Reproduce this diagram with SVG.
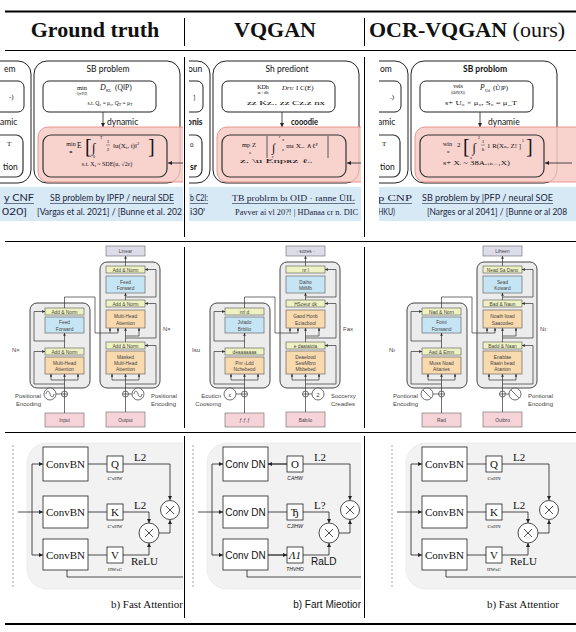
<svg xmlns="http://www.w3.org/2000/svg" xmlns:xlink="http://www.w3.org/1999/xlink" width="576" height="632" viewBox="0 0 576 632">
<style>
text{fill:#111}
.hd{font-family:"Liberation Serif",serif;font-size:22px;font-weight:bold}
.fr{fill:#fff;stroke:#222;stroke-width:1}
.fr2{fill:none;stroke:#333;stroke-width:1.2}
.pk{fill:#f7cbc5;fill-opacity:.85;stroke:#e4837a;stroke-width:.8}
.band{fill:#d7e9f5}
.ln{stroke:#222;stroke-width:.8;fill:none}
.sb{font-family:Lato,"Open Sans",sans-serif;font-size:8.5px}
.bt{font-family:Lato,"Open Sans",sans-serif;font-size:8.5px;fill:#1a2440}
.m{font-family:"Liberation Serif","DejaVu Serif",serif}
.mid{text-anchor:middle}
.end{text-anchor:end}
.tf{fill:#ececec;stroke:#333;stroke-width:.9}
.an{fill:#eef2c2;stroke:#555;stroke-width:.6}
.ff{fill:#c6e5f4;stroke:#555;stroke-width:.6}
.mh{fill:#f9d9ae;stroke:#555;stroke-width:.6}
.li{fill:#dcdde8;stroke:#666;stroke-width:.6}
.io{fill:#f6d3d9;stroke:#666;stroke-width:.6}
.l2{stroke:#333;stroke-width:.7;fill:none}
.t2{font-family:"Liberation Sans",Arial,sans-serif;font-size:4.8px;fill:#444;text-anchor:middle}
.t2s{font-family:"Liberation Sans",Arial,sans-serif;font-size:6px;fill:#444}
.bx{fill:#fff;stroke:#222;stroke-width:.8}
.l3{stroke:#222;stroke-width:.8;fill:none}
.t3{font-family:"Liberation Serif",serif;font-size:11px}
.t3s{font-family:"Liberation Serif",serif;font-size:5px}
.t3a{font-family:"Liberation Sans",Arial,sans-serif;font-size:10px}
.t3as{font-family:"Liberation Sans",Arial,sans-serif;font-size:5px;font-style:italic}
</style>
<defs>
<marker id="a1" viewBox="0 0 6 6" refX="6" refY="3" markerUnits="userSpaceOnUse" markerWidth="4" markerHeight="4" orient="auto"><path d="M0,0L6,3L0,6z" fill="#222"/></marker>
<marker id="a2" viewBox="0 0 6 6" refX="6" refY="3" markerUnits="userSpaceOnUse" markerWidth="2.8" markerHeight="2.8" orient="auto"><path d="M0,0L6,3L0,6z" fill="#333"/></marker>
<clipPath id="c1"><rect x="0" y="52" width="183" height="572"/></clipPath>
<clipPath id="c2"><rect x="189" y="52" width="172" height="572"/></clipPath>
<clipPath id="c3"><rect x="379" y="52" width="197" height="572"/></clipPath>
<g id="r1s">
<rect class="fr" x="-40" y="61" width="71" height="122" rx="13"/>
<rect class="fr" x="-30" y="81" width="54" height="31" rx="6"/>
<rect class="fr2" x="-30" y="135" width="53" height="42" rx="7"/>
<rect class="fr" x="34" y="61" width="146" height="122" rx="13"/>
<rect class="fr" x="43" y="81" width="113" height="31" rx="6"/>
<path class="ln" d="M103,112V127" marker-end="url(#a1)"/>
<rect class="pk" x="38" y="127" width="200" height="55" rx="10"/>
<rect class="fr2" x="43" y="135" width="124" height="42" rx="8"/>
<path class="ln" d="M195,163H168" marker-end="url(#a1)"/>
<rect class="band" x="-10" y="187" width="220" height="34"/>
</g>
<g id="r2s">
<rect class="li" x="106" y="246" width="39" height="10"/>
<rect class="tf" x="100" y="262" width="60" height="126" rx="7"/>
<rect class="tf" x="30" y="303" width="60" height="85" rx="7"/>
<rect class="an" x="106" y="266" width="39" height="7"/>
<rect class="ff" x="106" y="276" width="39" height="17"/>
<rect class="an" x="106" y="300" width="39" height="7"/>
<rect class="mh" x="106" y="310" width="39" height="18"/>
<rect class="an" x="106" y="342" width="39" height="7"/>
<rect class="mh" x="106" y="351" width="39" height="23"/>
<rect class="io" x="106" y="412" width="39" height="15"/>
<rect class="an" x="45" y="308" width="39" height="7"/>
<rect class="ff" x="45" y="317" width="39" height="16"/>
<rect class="an" x="45" y="348" width="39" height="7"/>
<rect class="mh" x="45" y="357" width="39" height="17"/>
<rect class="io" x="45" y="413" width="39" height="14"/>
<path class="l2" d="M125.5,412V397M64.5,413V397M112,380H139M51,380H78M128.5,394H132M56,394H61.5"/>
<path class="l2" d="M125.5,391V374" marker-end="url(#a2)"/>
<path class="l2" d="M112,380V374" marker-end="url(#a2)"/>
<path class="l2" d="M139,380V374" marker-end="url(#a2)"/>
<path class="l2" d="M125.5,384H156V345.5H145" marker-end="url(#a2)"/>
<path class="l2" d="M125.5,342V328" marker-end="url(#a2)"/>
<path class="l2" d="M125.5,336H139V328" marker-end="url(#a2)"/>
<path class="l2" d="M64.5,308V297H95V333H118V328" marker-end="url(#a2)"/>
<path class="l2" d="M110,333V328" marker-end="url(#a2)"/>
<path class="l2" d="M125.5,338H156V303.5H145" marker-end="url(#a2)"/>
<path class="l2" d="M125.5,300V293" marker-end="url(#a2)"/>
<path class="l2" d="M125.5,297H156V269.5H145" marker-end="url(#a2)"/>
<path class="l2" d="M125.5,266V256" marker-end="url(#a2)"/>
<path class="l2" d="M64.5,391V374" marker-end="url(#a2)"/>
<path class="l2" d="M51,380V374" marker-end="url(#a2)"/>
<path class="l2" d="M78,380V374" marker-end="url(#a2)"/>
<path class="l2" d="M64.5,384H34V351.5H45" marker-end="url(#a2)"/>
<path class="l2" d="M64.5,348V333" marker-end="url(#a2)"/>
<path class="l2" d="M64.5,341H34V311.5H45" marker-end="url(#a2)"/>
<circle cx="125.5" cy="394" r="3" fill="#fff" stroke="#333" stroke-width=".7"/>
<path class="l2" d="M122.5,394h6M125.5,391v6"/>
<circle cx="64.5" cy="394" r="3" fill="#fff" stroke="#333" stroke-width=".7"/>
<path class="l2" d="M61.5,394h6M64.5,391v6"/>
<circle cx="138" cy="394" r="6" fill="#fff" stroke="#333" stroke-width=".7"/>
<circle cx="50" cy="394" r="6" fill="#fff" stroke="#333" stroke-width=".7"/>
</g>
<g id="r3s">
<path d="M13,445V588" stroke="#888" stroke-width=".8" stroke-dasharray="2,2"/>
<rect x="27" y="443" width="240" height="146" rx="20" fill="#f2f2f2" stroke="#e4e4e4" stroke-width=".6"/>
<rect class="bx" x="43" y="447" width="45" height="34"/>
<rect class="bx" x="43" y="496" width="45" height="32"/>
<rect class="bx" x="43" y="539" width="45" height="31"/>
<rect class="bx" x="107" y="456" width="16" height="16"/>
<rect class="bx" x="107" y="504" width="16" height="16"/>
<rect class="bx" x="107" y="547" width="16" height="16"/>
<path class="l3" d="M88,464H107M88,512H107M88,555H107M32,464V555M67,570V577H270"/>
<path class="l3" d="M123,464H170V500" marker-end="url(#a1)"/>
<path class="l3" d="M123,512H149V523" marker-end="url(#a1)"/>
<path class="l3" d="M123,555H149V543" marker-end="url(#a1)"/>
<path class="l3" d="M159,533H170V520" marker-end="url(#a1)"/>
<path class="l3" d="M18,512H43" marker-end="url(#a1)"/>
<path class="l3" d="M32,464H43" marker-end="url(#a1)"/>
<path class="l3" d="M32,555H43" marker-end="url(#a1)"/>
<circle class="bx" cx="170" cy="510" r="9.5"/>
<circle class="bx" cx="149" cy="533" r="10"/>
<path class="l3" d="M166,506l8,8M174,506l-8,8M145,529l8,8M153,529l-8,8"/>
</g>
</defs>

<g id="header">
<path d="M5,11.5H576" stroke="#000" stroke-width="2"/>
<path d="M5,50.5H576" stroke="#000" stroke-width="1"/>
<text class="hd mid" x="95" y="37">Ground truth</text>
<text class="hd mid" x="275" y="37">VQGAN</text>
<text class="hd" x="369" y="37">OCR-VQGAN<tspan font-weight="normal"> (ours)</tspan></text>
</g>

<g id="rules">
<path d="M5,241.5H576M5,432.5H576" stroke="#000" stroke-width="1"/>
<path d="M5,624H576" stroke="#000" stroke-width="2"/>
<path d="M184.5,18V46M184.5,57V237M184.5,247V428M184.5,436V618M364.5,18V46M364.5,57V237M364.5,247V428M364.5,436V618" stroke="#000" stroke-width="1"/>
</g>

<!-- ROW 1 -->
<g id="r1c1" clip-path="url(#c1)">
<use xlink:href="#r1s"/>
<text class="sb" x="4" y="72">em</text>
<text class="m" x="9" y="99" font-size="7">-)</text>
<text class="sb" x="0" y="125">amic</text>
<text class="m" x="7" y="146" font-size="7">T</text>
<text class="sb" x="3" y="170" font-size="5">tion</text>
<text class="sb mid" x="108" y="72">SB problem</text>
<text class="m mid" x="82" y="90" font-size="6.5">min</text>
<text class="m mid" x="82" y="95" font-size="3.5">Q∈P(Ι)</text>
<text class="m" x="100" y="90" font-size="8" font-style="italic">D</text>
<text class="m" x="106" y="92" font-size="4">KL</text>
<text class="m" x="115" y="90" font-size="7.5">(Q‖P)</text>
<text class="m mid" x="110" y="104.5" font-size="5.5">s.t. Q₀ = μ₀, Q<tspan font-size="4" dy="1">T</tspan><tspan dy="-1"> = μ</tspan><tspan font-size="4" dy="1">T</tspan></text>
<text class="sb" x="107" y="125">dynamic</text>
<text class="m mid" x="71" y="146" font-size="6">min</text>
<text class="m mid" x="71" y="153" font-size="5" font-weight="bold">u</text>
<text class="m" x="77" y="147.5" font-size="7.5">E</text>
<text class="m" x="85" y="153" font-size="20">[</text>
<text class="m" x="92" y="152" font-size="13" font-style="italic">∫</text>
<text class="m" x="100" y="139" font-size="4">T</text>
<text class="m" x="93" y="157.5" font-size="4">0</text>
<text class="m mid" x="108" y="143" font-size="5">1</text>
<path d="M106,145H110" stroke="#222" stroke-width=".4"/>
<text class="m mid" x="108" y="151" font-size="5">2</text>
<text class="m" x="113" y="148" font-size="7">‖u(X<tspan font-size="4.5" dy="1">t</tspan><tspan dy="-1">, t)‖</tspan><tspan font-size="4.5" dy="-3">2</tspan></text>
<text class="m" x="148" y="153" font-size="20">]</text>
<text class="m mid" x="107" y="166" font-size="6">s.t. X<tspan font-size="4" dy="1">t</tspan><tspan dy="-1"> ~ SDE(u, √2ε)</tspan></text>
<text class="bt" x="4" y="201" textLength="30" lengthAdjust="spacingAndGlyphs">y CNF</text>
<text class="bt" x="50" y="201" textLength="124" lengthAdjust="spacingAndGlyphs">SB problem by IPFP / neural SDE</text>
<path d="M4,203.5H34M50,203.5H174" stroke="#1a2440" stroke-width=".6"/>
<text class="bt" x="2" y="215" textLength="25" lengthAdjust="spacingAndGlyphs">020]</text>
<text class="bt" x="37" y="215" textLength="145" lengthAdjust="spacingAndGlyphs">[Vargas et al. 2021] / [Bunne et al. 202</text>
</g>

<g id="r1c2" clip-path="url(#c2)">
<g transform="translate(179,0)">
<use xlink:href="#r1s"/>
<text class="sb" x="9" y="72">oun</text>
<text class="m" x="14" y="99" font-size="7">]</text>
<text class="sb" x="8" y="125" font-weight="bold">onis</text>
<text class="m" x="11" y="147" font-size="7">0</text>
<text class="sb" x="11" y="170" font-size="5" font-weight="bold">sr</text>
<text class="sb mid" x="108" y="72">Sh prediont</text>
<text class="m mid" x="84" y="89" font-size="6">KDh</text>
<text class="m mid" x="84" y="94" font-size="4.5">ж / dh</text>
<text class="m" x="103" y="90" font-size="7" font-style="italic">Dᴦᴜ</text>
<text class="m" x="117" y="90" font-size="7">I C(E)</text>
<text class="m" x="68" y="105" font-size="5.5" textLength="78" lengthAdjust="spacingAndGlyphs">zz  Kz.. zz   Cz.z  nx</text>
<text class="sb" x="112" y="125" font-weight="bold" textLength="27" lengthAdjust="spacingAndGlyphs">cooodie</text>
<text class="m" x="63" y="147" font-size="6.5">mp Z</text>
<text class="m" x="70" y="154" font-size="4.5">z</text>
<path d="M88,136V158M149,136V158" stroke="#333" stroke-width=".8"/>
<text class="m" x="93" y="152" font-size="12" font-style="italic">∫</text>
<text class="m" x="100" y="138" font-size="4">r</text>
<text class="m" x="93" y="157.5" font-size="4">ɛ</text>
<text class="m" x="103" y="141" font-size="4.5">x</text>
<text class="m" x="103" y="151" font-size="4.5">z</text>
<text class="m" x="107" y="148" font-size="6.5" textLength="32" lengthAdjust="spacingAndGlyphs">ɪnı X.. ∧ℓᴾ</text>
<text class="m" x="61" y="163" font-size="5.5" textLength="72" lengthAdjust="spacingAndGlyphs">z.   \u    Enpʀz   ℓᵢᵢ</text>
<text class="bt" x="11" y="201" textLength="18" lengthAdjust="spacingAndGlyphs">b C2I:</text>
<text class="bt m" x="53" y="201" textLength="123" lengthAdjust="spacingAndGlyphs">TB problrm bı OID · ranne ŨIL</text>
<path d="M11,203.5H29M53,203.5H176" stroke="#1a2440" stroke-width=".6"/>
<text class="bt" x="11" y="215" textLength="15" lengthAdjust="spacingAndGlyphs">i30ᴵ</text>
<text class="bt m" x="56" y="215" textLength="123" lengthAdjust="spacingAndGlyphs">Pavver ai vl 20?! | HDanaa cr n. DIC</text>
</g>
</g>

<g id="r1c3" clip-path="url(#c3)">
<g transform="translate(377,0)">
<use xlink:href="#r1s"/>
<text class="sb" x="3" y="72">om</text>
<text class="m" x="13" y="99" font-size="7">.)</text>
<text class="sb" x="1" y="125">amic</text>
<text class="m" x="5" y="146" font-size="7">T</text>
<text class="sb" x="3" y="170" font-size="5">tion</text>
<text class="sb mid" x="108" y="72" font-weight="bold">SB problom</text>
<text class="m mid" x="81" y="88" font-size="6">veis</text>
<text class="m mid" x="81" y="94" font-size="3.5">(ΩϑN(X))</text>
<text class="m" x="103" y="90" font-size="7.5" font-style="italic">P</text>
<text class="m" x="108" y="92" font-size="4">Ud</text>
<text class="m" x="116" y="90" font-size="7">(Ũ|P)</text>
<text class="m" x="68" y="104.5" font-size="5.5" textLength="72" lengthAdjust="spacingAndGlyphs">s+  U₀ × μ₀,  S₀ = μ_T</text>
<text class="sb" x="111" y="125">dynamie</text>
<text class="m" x="66" y="146" font-size="6">win</text>
<text class="m" x="80" y="147" font-size="7">2</text>
<text class="m" x="70" y="153" font-size="4.5">α</text>
<text class="m" x="86" y="153" font-size="20">[</text>
<text class="m" x="95.5" y="152" font-size="13" font-style="italic">∫</text>
<text class="m" x="101" y="139" font-size="4">2</text>
<text class="m" x="93.2" y="158.5" font-size="4">a</text>
<text class="m mid" x="106" y="143" font-size="5">1</text>
<path d="M104,145H108" stroke="#222" stroke-width=".4"/>
<text class="m mid" x="106" y="151" font-size="5">ḃ</text>
<text class="m" x="110" y="148" font-size="6.5" textLength="34" lengthAdjust="spacingAndGlyphs">1 R(Xₙ, Z! ]</text>
<text class="m" x="145" y="142" font-size="4">5</text>
<text class="m" x="149" y="153" font-size="20">]</text>
<text class="m" x="66" y="164.5" font-size="5.5" textLength="67" lengthAdjust="spacingAndGlyphs">s+  Xᵢ ~ 38Aₐ₍ₕ₋₁X)</text>
<text class="bt m" x="1" y="201" textLength="34" lengthAdjust="spacingAndGlyphs">p CNP</text>
<text class="bt" x="45" y="201" textLength="131" lengthAdjust="spacingAndGlyphs">SB problem by |PFP / neural SOE</text>
<path d="M1,203.5H35M45,203.5H176" stroke="#1a2440" stroke-width=".6"/>
<text class="bt" x="1" y="215" textLength="17" lengthAdjust="spacingAndGlyphs">HKU)</text>
<text class="bt" x="50" y="215" textLength="140" lengthAdjust="spacingAndGlyphs">[Narges or al 2041] / [Bunne or al 208</text>
</g>
</g>

<!-- ROW 2 -->
<g id="r2c1" clip-path="url(#c1)">
<use xlink:href="#r2s"/>
<path class="l2" d="M134,394c1-4 2.5-4 4,0s3,4 4,0M46,394c1-4 2.5-4 4,0s3,4 4,0"/>
<text class="t2" x="125.5" y="253" fill="#666">Linear</text>
<text class="t2" x="125.5" y="271.6">Add &amp; Norm</text>
<text class="t2" x="125.5" y="283.5">Feed</text>
<text class="t2" x="125.5" y="290">Forward</text>
<text class="t2" x="125.5" y="305.6">Add &amp; Norm</text>
<text class="t2" x="125.5" y="318">Multi-Head</text>
<text class="t2" x="125.5" y="324.5">Attention</text>
<text class="t2" x="125.5" y="347.6">Add &amp; Norm</text>
<text class="t2" x="125.5" y="358.5">Masked</text>
<text class="t2" x="125.5" y="364.5">Multi-Head</text>
<text class="t2" x="125.5" y="370.5">Attention</text>
<text class="t2" x="125.5" y="422">Output</text>
<text class="t2s" x="163" y="331">N×</text>
<text class="t2s" x="151" y="398">Positional</text>
<text class="t2s" x="151" y="406">Encoding</text>
<text class="t2" x="64.5" y="313.6">Add &amp; Norm</text>
<text class="t2" x="64.5" y="324">Feed</text>
<text class="t2" x="64.5" y="330.5">Forward</text>
<text class="t2" x="64.5" y="353.6">Add &amp; Norm</text>
<text class="t2" x="64.5" y="364.5">Multi-Head</text>
<text class="t2" x="64.5" y="371">Attention</text>
<text class="t2" x="64.5" y="422">Input</text>
<text class="t2s" x="12" y="352">N×</text>
<text class="t2s end" x="41" y="398">Positional</text>
<text class="t2s end" x="41" y="406">Encoding</text>
</g>

<g id="r2c2" clip-path="url(#c2)">
<g transform="translate(180,0)">
<use xlink:href="#r2s"/>
<text class="t2s mid" x="138" y="396.5" font-size="7" fill="#222">2</text>
<text class="t2s mid" x="50" y="396.5" font-size="7" fill="#222">ɛ</text>
<text class="t2" x="125.5" y="253" fill="#555">· sozes ·</text>
<text class="t2" x="125.5" y="271.6" fill="#222">nr  l</text>
<text class="t2" x="125.5" y="283.5" fill="#223">Daiho</text>
<text class="t2" x="125.5" y="290" fill="#223">MitMb</text>
<text class="t2" x="125.5" y="305.6" fill="#222">HSoeur dk</text>
<text class="t2" x="125.5" y="318" fill="#222">Gaod Honb</text>
<text class="t2" x="125.5" y="324.5" fill="#222">Eciacbool</text>
<text class="t2" x="125.5" y="347.6" fill="#222">e daataioia</text>
<text class="t2" x="125.5" y="358.5" fill="#222">Deaelood</text>
<text class="t2" x="125.5" y="364.5" fill="#222">SewMbro</text>
<text class="t2" x="125.5" y="370.5" fill="#222">Mbbebed</text>
<text class="t2" x="125.5" y="422" fill="#222">Babılo</text>
<text class="t2s" x="163" y="331" fill="#222">Fax</text>
<text class="t2s" x="151" y="398" fill="#222">Soccerxy</text>
<text class="t2s" x="151" y="406" fill="#222">Creadles</text>
<text class="t2" x="64.5" y="313.6" fill="#222">nrl  d</text>
<text class="t2" x="64.5" y="324" fill="#223">Jvlado</text>
<text class="t2" x="64.5" y="330.5" fill="#223">Brbilio</text>
<text class="t2" x="64.5" y="353.6" fill="#222">deaaaaaaa</text>
<text class="t2" x="64.5" y="364.5" fill="#222">Pnr ›Ldd</text>
<text class="t2" x="64.5" y="371" fill="#222">Nchebeod</text>
<text class="t2" x="64.5" y="422" fill="#222">ƒ.ƒ.ƒ</text>
<text class="t2s" x="12" y="352" fill="#222">Isu</text>
<text class="t2s end" x="41" y="398" fill="#222">Ecuticn</text>
<text class="t2s end" x="41" y="406" fill="#222">Coosomg</text>
</g>
</g>

<g id="r2c3" clip-path="url(#c3)">
<g transform="translate(377,0)">
<use xlink:href="#r2s"/>
<path class="l2" d="M134,390L142,398M46,390L54,398"/>
<text class="t2" x="125.5" y="253" fill="#666">Liheen</text>
<text class="t2" x="125.5" y="271.6">Nead Sa Dano</text>
<text class="t2" x="125.5" y="283.5">Sead</text>
<text class="t2" x="125.5" y="290">Koward</text>
<text class="t2" x="125.5" y="305.6">Bad &amp; Naun</text>
<text class="t2" x="125.5" y="318">Noath lioad</text>
<text class="t2" x="125.5" y="324.5">Saacodeo</text>
<text class="t2" x="125.5" y="347.6">Badd &amp; Naan</text>
<text class="t2" x="125.5" y="358.5">Enablae</text>
<text class="t2" x="125.5" y="364.5">Raain bead</text>
<text class="t2" x="125.5" y="370.5">Atanion</text>
<text class="t2" x="125.5" y="422">Outbro</text>
<text class="t2s" x="163" y="331">Nı:</text>
<text class="t2s" x="151" y="398">Pontional</text>
<text class="t2s" x="151" y="406">Encoding</text>
<text class="t2" x="64.5" y="313.6">Nad &amp; Norn</text>
<text class="t2" x="64.5" y="324">Foint</text>
<text class="t2" x="64.5" y="330.5">Fonwand</text>
<text class="t2" x="64.5" y="353.6">Aad &amp; Eimn</text>
<text class="t2" x="64.5" y="364.5">Muss Noad</text>
<text class="t2" x="64.5" y="371">Aitanies</text>
<text class="t2" x="64.5" y="422">Rad</text>
<text class="t2s" x="12" y="352">Nı</text>
<text class="t2s end" x="41" y="398">Pontional</text>
<text class="t2s end" x="41" y="406">Encoding</text>
</g>
</g>

<!-- ROW 3 -->
<g id="r3c1" clip-path="url(#c1)">
<use xlink:href="#r3s"/>
<text class="t3 mid" x="65.5" y="468">ConvBN</text>
<text class="t3 mid" x="65.5" y="516">ConvBN</text>
<text class="t3 mid" x="65.5" y="558.5">ConvBN</text>
<text class="t3 mid" x="115" y="468" font-size="10">Q</text>
<text class="t3 mid" x="115" y="516" font-size="10">K</text>
<text class="t3 mid" x="115" y="559" font-size="10">V</text>
<text class="t3s mid" x="115" y="480">C'xHW</text>
<text class="t3s mid" x="115" y="528">C'xHW</text>
<text class="t3s mid" x="115" y="571">HWxC</text>
<text class="t3" x="134" y="461" font-size="9">L2</text>
<text class="t3" x="134" y="509" font-size="9">L2</text>
<text class="t3" x="131" y="565" font-size="10">ReLU</text>
<text class="t3 end" x="183" y="608" font-size="10.5">b) Fast Attentior</text>
</g>

<g id="r3c2" clip-path="url(#c2)">
<g transform="translate(180,0)">
<use xlink:href="#r3s"/>
<path class="l3" d="M107,464H88" marker-end="url(#a1)"/>
<path class="l3" d="M88,555H107" marker-end="url(#a1)"/>
<text class="t3a mid" x="65.5" y="468">Conv DN</text>
<text class="t3a mid" x="65.5" y="516">Conv DN</text>
<text class="t3a mid" x="65.5" y="558.5">Conv DN</text>
<text class="t3 mid" x="115" y="468" font-size="10">O</text>
<text class="t3 mid" x="115" y="516" font-size="10">Ђ</text>
<text class="t3 mid" x="115" y="559" font-size="9" font-style="italic">Λ1</text>
<text class="t3as mid" x="115" y="480">CAHW</text>
<text class="t3as mid" x="115" y="528">CJIHW</text>
<text class="t3as mid" x="115" y="571">THVHO</text>
<text class="t3" x="134" y="461" font-size="9">I.2</text>
<text class="t3" x="134" y="509" font-size="9">L?</text>
<text class="t3a" x="131" y="565" font-size="9">RaLD</text>
<text class="t3a end" x="181" y="608" font-size="9.5">b) Fart Mieotior</text>
</g>
</g>

<g id="r3c3" clip-path="url(#c3)">
<g transform="translate(379,0)">
<use xlink:href="#r3s"/>
<text class="t3 mid" x="65.5" y="468">ConvBN</text>
<text class="t3 mid" x="65.5" y="516">ConvBN</text>
<text class="t3 mid" x="65.5" y="558.5">ConvBN</text>
<text class="t3 mid" x="115" y="468" font-size="10">Q</text>
<text class="t3 mid" x="115" y="516" font-size="10">K</text>
<text class="t3 mid" x="115" y="559" font-size="10">V</text>
<text class="t3s mid" x="115" y="480">CxHN</text>
<text class="t3s mid" x="115" y="528">CxHN</text>
<text class="t3s mid" x="115" y="571">IIWxC</text>
<text class="t3" x="134" y="461" font-size="9">L2</text>
<text class="t3" x="134" y="509" font-size="9">L2</text>
<text class="t3" x="131" y="565" font-size="10">ReLU</text>
<text class="t3 end" x="180" y="608" font-size="10.5">b) Fast Attentior</text>
</g>
</g>
</svg>
